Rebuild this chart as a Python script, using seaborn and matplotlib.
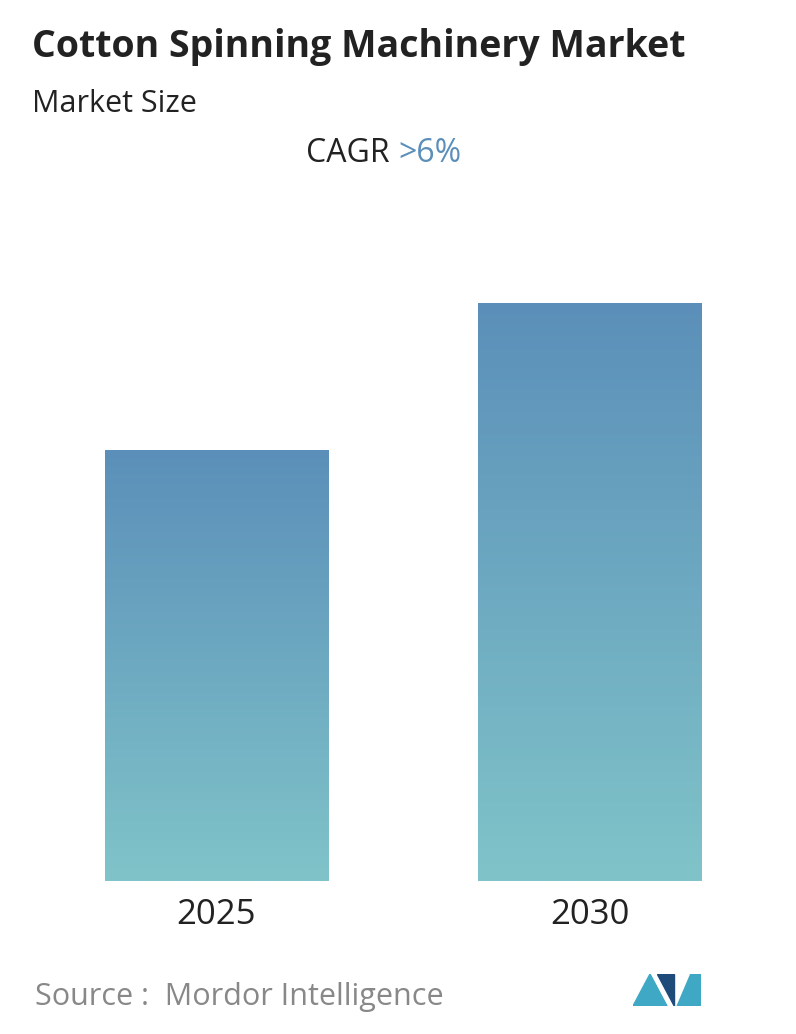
import numpy as np
import matplotlib.pyplot as plt
import seaborn as sns
from matplotlib.colors import LinearSegmentedColormap

years = ["2025", "2030"]
values = [7.46, 10.0]

sns.set_style("white")
plt.rcParams['font.family'] = ['Open Sans', 'DejaVu Sans']

W, H = 796, 1034
fig = plt.figure(figsize=(W / 100, H / 100), dpi=100)
ax = fig.add_axes([105 / W, 1 - 881 / H, (701 - 105) / W, (881 - 303) / H])

sns.barplot(x=years, y=values, ax=ax, width=0.598, color="#6aa3bf")
ax.axis("off")

cmap = LinearSegmentedColormap.from_list("g", ["#80c4c9", "#5b8fb9"])
grad = np.linspace(0, 1, 256).reshape(-1, 1)
for p in ax.patches:
    x0, y0 = p.get_x(), p.get_y()
    w, h = p.get_width(), p.get_height()
    im = ax.imshow(grad, cmap=cmap, origin="lower", aspect="auto",
                   extent=[x0, x0 + w, y0, y0 + h], zorder=p.get_zorder() + 0.1)
    im.set_clip_path(p)
ax.set_xlim(-0.299, 1.299)
ax.set_ylim(0, 10)

for i, y in enumerate(years):
    fig.text((216.5 + 373 * i) / W, 1 - 915 / H, y, ha="center", va="center",
             fontsize=25, color="#222222")

fig.text(32 / W, 1 - 47 / H, "Cotton Spinning Machinery Market", fontsize=27,
         fontweight="bold", color="#222222", va="center")
fig.text(32 / W, 1 - 104 / H, "Market Size", fontsize=22, color="#222222", va="center")
fig.text(398 / W, 1 - 154 / H, "CAGR ", fontsize=23, color="#222222", va="center", ha="right")
fig.text(398 / W, 1 - 154 / H, ">6%", fontsize=23, color="#5b8fb9", va="center", ha="left")
fig.text(35 / W, 1 - 997 / H, "Source :  Mordor Intelligence", fontsize=22,
         color="#888888", va="center")

# logo
lax = fig.add_axes([633 / W, 1 - 1006 / H, 68 / W, 32 / H])
lax.fill([0, 0.25, 0.5, 0.25], [0, 1, 0, 0], color="#3fa8c4")
lax.fill([0.35, 0.6, 0.6], [1, 1, 0], color="#1e4b7a")
lax.fill([0.65, 0.85, 1.0, 1.0], [0, 1, 1, 0], color="#3fa8c4")
lax.set_xlim(0, 1)
lax.set_ylim(0, 1)
lax.axis("off")

fig.savefig("out.png", dpi=100, facecolor="white")
